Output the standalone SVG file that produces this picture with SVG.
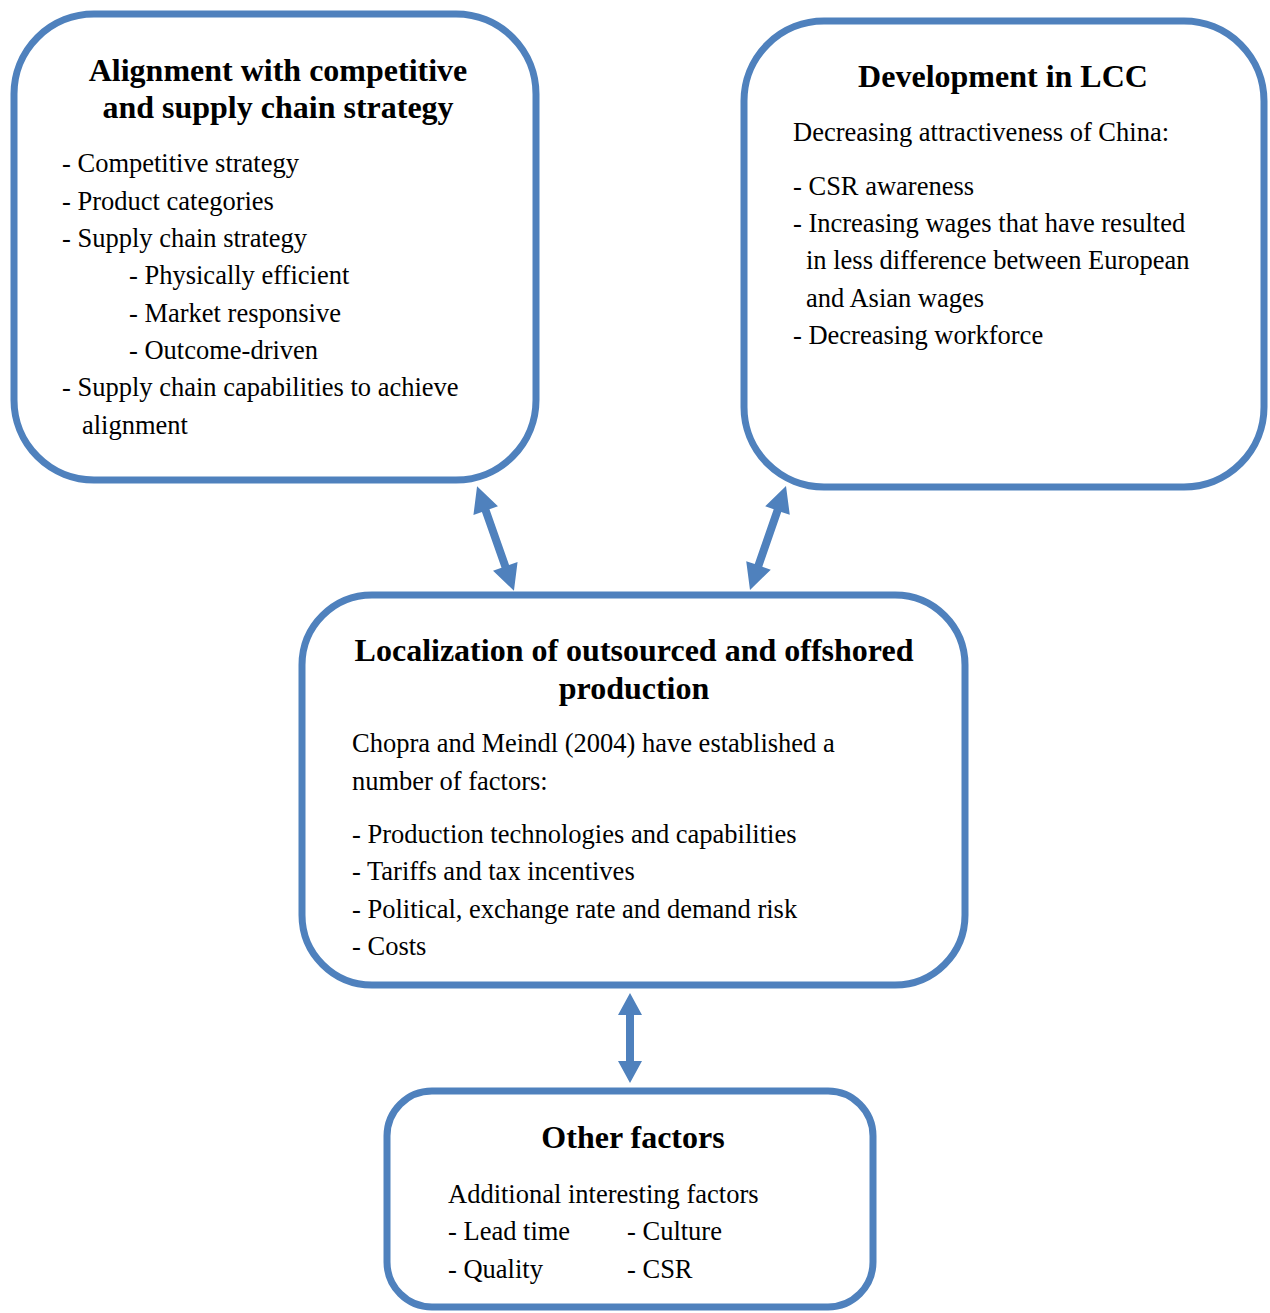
<svg xmlns="http://www.w3.org/2000/svg" width="1270" height="1313" viewBox="0 0 1270 1313">
  <defs>
    <style>
      .box { fill: #ffffff; stroke: #4f81bd; stroke-width: 7; }
      .title { font-family: "Liberation Serif", "Times New Roman", serif; font-weight: bold; font-size: 32px; fill: #000; text-anchor: middle; }
      .body { font-family: "Liberation Serif", "Times New Roman", serif; font-size: 26.5px; fill: #000; }
      .arrow { fill: #4f81bd; }
    </style>
  </defs>
  <rect width="1270" height="1313" fill="#ffffff"/>

  <g id="connectors">
    <!-- Alignment box <-> Localization box -->
    <polygon class="arrow" transform="translate(495.5,538.5) rotate(-19.4)"
      points="0,-55.5 13,-29.5 4,-29.5 4,29.5 13,29.5 0,55.5 -13,29.5 -4,29.5 -4,-29.5 -13,-29.5"/>
    <!-- Development in LCC box <-> Localization box -->
    <polygon class="arrow" transform="translate(768,538) rotate(19.1)"
      points="0,-55 13,-29 4,-29 4,29 13,29 0,55 -13,29 -4,29 -4,-29 -13,-29"/>
    <!-- Localization box <-> Other factors box -->
    <polygon class="arrow" transform="translate(630,1038)"
      points="0,-45 12,-23 4,-23 4,23 12,23 0,45 -12,23 -4,23 -4,-23 -12,-23"/>
  </g>

  <g id="node-alignment">
    <rect class="box" x="14" y="14" width="522" height="466" rx="80" ry="80"/>
    <text class="title" x="278" y="81">Alignment with competitive</text>
    <text class="title" x="278" y="118">and supply chain strategy</text>
    <text class="body" x="62" y="172">- Competitive strategy</text>
    <text class="body" x="62" y="210">- Product categories</text>
    <text class="body" x="62" y="247">- Supply chain strategy</text>
    <text class="body" x="129" y="284">- Physically efficient</text>
    <text class="body" x="129" y="322">- Market responsive</text>
    <text class="body" x="129" y="359">- Outcome-driven</text>
    <text class="body" x="62" y="396">- Supply chain capabilities to achieve</text>
    <text class="body" x="82" y="434">alignment</text>
  </g>

  <g id="node-lcc">
    <rect class="box" x="744" y="21" width="520" height="466" rx="80" ry="80"/>
    <text class="title" x="1003" y="87">Development in LCC</text>
    <text class="body" x="793" y="141">Decreasing attractiveness of China:</text>
    <text class="body" x="793" y="195">- CSR awareness</text>
    <text class="body" x="793" y="232">- Increasing wages that have resulted</text>
    <text class="body" x="806" y="269">in less difference between European</text>
    <text class="body" x="806" y="307">and Asian wages</text>
    <text class="body" x="793" y="344">- Decreasing workforce</text>
  </g>

  <g id="node-localization">
    <rect class="box" x="302" y="595" width="663" height="390" rx="70" ry="70"/>
    <text class="title" x="634" y="661">Localization of outsourced and offshored</text>
    <text class="title" x="634" y="699">production</text>
    <text class="body" x="352" y="752">Chopra and Meindl (2004) have established a</text>
    <text class="body" x="352" y="790">number of factors:</text>
    <text class="body" x="352" y="843">- Production technologies and capabilities</text>
    <text class="body" x="352" y="880">- Tariffs and tax incentives</text>
    <text class="body" x="352" y="918">- Political, exchange rate and demand risk</text>
    <text class="body" x="352" y="955">- Costs</text>
  </g>

  <g id="node-other">
    <rect class="box" x="387" y="1091" width="486" height="216" rx="45" ry="45"/>
    <text class="title" x="633" y="1148">Other factors</text>
    <text class="body" x="448" y="1203">Additional interesting factors</text>
    <text class="body" x="448" y="1240">- Lead time</text>
    <text class="body" x="627" y="1240">- Culture</text>
    <text class="body" x="448" y="1278">- Quality</text>
    <text class="body" x="627" y="1278">- CSR</text>
  </g>
</svg>
